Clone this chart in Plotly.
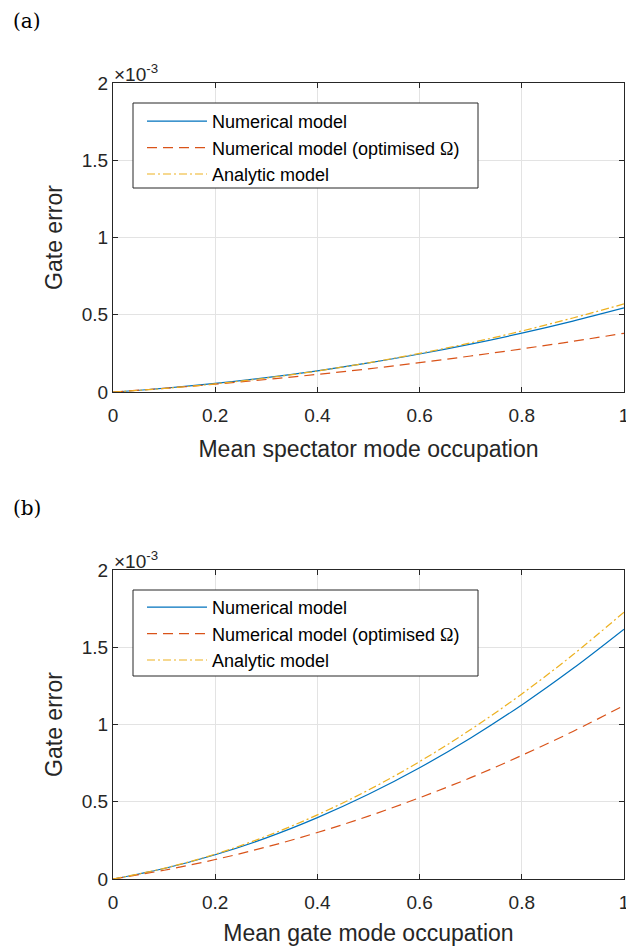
import plotly.graph_objects as go

x = [0, 0.1, 0.2, 0.3, 0.4, 0.5, 0.6, 0.7, 0.8, 0.9, 1.0]

# Panel (a): values in units of 1e-3
a_num = [0, 0.0243, 0.0552, 0.0929, 0.137, 0.188, 0.246, 0.310, 0.381, 0.459, 0.544]
a_opt = [0, 0.0238, 0.0507, 0.0808, 0.114, 0.150, 0.190, 0.233, 0.279, 0.328, 0.380]
a_ana = [0, 0.0225, 0.0527, 0.0906, 0.136, 0.189, 0.250, 0.318, 0.395, 0.479, 0.570]

# Panel (b)
b_num = [0, 0.0679, 0.157, 0.266, 0.397, 0.548, 0.720, 0.913, 1.127, 1.362, 1.617]
b_opt = [0, 0.0568, 0.126, 0.207, 0.301, 0.407, 0.526, 0.656, 0.800, 0.955, 1.123]
b_ana = [0, 0.0692, 0.161, 0.277, 0.415, 0.576, 0.760, 0.967, 1.198, 1.451, 1.727]

names = ["Numerical model",
         "Numerical model (optimised <span style='font-family:Liberation Serif, serif'>Ω</span>)",
         "Analytic model"]
colors = ["#0072BD", "#D95319", "#EDB120"]
dashes = ["solid", "10px,6px", "8px,3px,2px,3px"]

xticks = [0, 0.2, 0.4, 0.6, 0.8, 1]
xticklabels = ["0", "0.2", "0.4", "0.6", "0.8", "1"]
yticks = [0, 0.5, 1, 1.5, 2]
yticklabels = ["0", "0.5", "1", "1.5", "2"]

# The page body has an 8px margin, so the figure starts at (8, 8) in the window.
OFF = 8
W, H = 634 - OFF, 946 - OFF


def px(v):
    return (v - OFF) / W


def py(v):
    return 1 - (v - OFF) / H


fig = go.Figure()

panels = [
    (a_num, a_opt, a_ana, "x", "y", "legend", "a"),
    (b_num, b_opt, b_ana, "x2", "y2", "legend2", "b"),
]
for (s1, s2, s3, xa, ya, lg, p) in panels:
    for i, (vals, nm, c, d) in enumerate(zip([s1, s2, s3], names, colors, dashes)):
        fig.add_trace(go.Scatter(
            x=x, y=vals, mode="lines", name=nm, xaxis=xa, yaxis=ya, legend=lg,
            line=dict(color=c, width=1.2, dash=d, shape="spline"),
        ))

font = "Liberation Sans, Arial, Helvetica, sans-serif"
axis_common = dict(
    showline=True, linecolor="#262626", linewidth=1, mirror="allticks",
    ticks="inside", ticklen=5, tickcolor="#262626", tickwidth=1,
    showgrid=True, gridcolor="#e3e3e3", gridwidth=1, zeroline=False,
    automargin=False,
    tickfont=dict(family=font, size=19, color="#262626"),
)
title_font = dict(family=font, size=23, color="#262626")

xdom = [px(113), px(624)]
ydom_a = [py(392), py(83)]
ydom_b = [py(879), py(570)]

legend_common = dict(xanchor="left", yanchor="top",
                     bgcolor="rgba(0,0,0,0)", borderwidth=0,
                     font=dict(family=font, size=18, color="#000000"), itemwidth=60,
                     tracegroupgap=0)

fig.update_layout(
    width=W, height=H, margin=dict(l=0, r=0, t=0, b=0),
    paper_bgcolor="white", plot_bgcolor="white",
    showlegend=True,
    xaxis=dict(domain=xdom, range=[0, 1], anchor="y", tickvals=xticks, ticktext=xticklabels,
               ticklabelstandoff=6,
               title=dict(text="Mean spectator mode occupation", font=title_font, standoff=16),
               **axis_common),
    yaxis=dict(domain=ydom_a, range=[0, 2], anchor="x", tickvals=yticks, ticktext=yticklabels,
               title=dict(text="Gate error", font=title_font, standoff=12),
               **axis_common),
    xaxis2=dict(domain=xdom, range=[0, 1], anchor="y2", tickvals=xticks, ticktext=xticklabels,
                ticklabelstandoff=6,
                title=dict(text="Mean gate mode occupation", font=title_font, standoff=16),
                **axis_common),
    yaxis2=dict(domain=ydom_b, range=[0, 2], anchor="x2", tickvals=yticks, ticktext=yticklabels,
                title=dict(text="Gate error", font=title_font, standoff=12),
                **axis_common),
    legend=dict(x=px(142), y=py(103), **legend_common),
    legend2=dict(x=px(142), y=py(589), **legend_common),
)

# Legend frames (white boxes with dark border, drawn above the curves)
for top, bot in [(103, 188), (590, 676)]:
    fig.add_shape(type="rect", xref="paper", yref="paper",
                  x0=px(133), x1=px(478), y0=py(bot), y1=py(top),
                  line=dict(color="#262626", width=1), fillcolor="white", layer="above")

# x10^-3 multipliers and panel tags
for ytop in [83, 570]:
    fig.add_annotation(xref="paper", yref="paper", x=px(112), y=py(ytop + 4),
                       xanchor="left", yanchor="bottom", showarrow=False,
                       text="×10<sup>-3</sup>", font=dict(family=font, size=19, color="#262626"))
for ycen, tag in [(21, "(a)"), (508, "(b)")]:
    fig.add_annotation(xref="paper", yref="paper", x=px(11), y=py(ycen),
                       xanchor="left", yanchor="middle", showarrow=False,
                       text=tag, font=dict(family="DejaVu Serif, serif", size=20, color="#000000"))

fig.write_html("out.html")
